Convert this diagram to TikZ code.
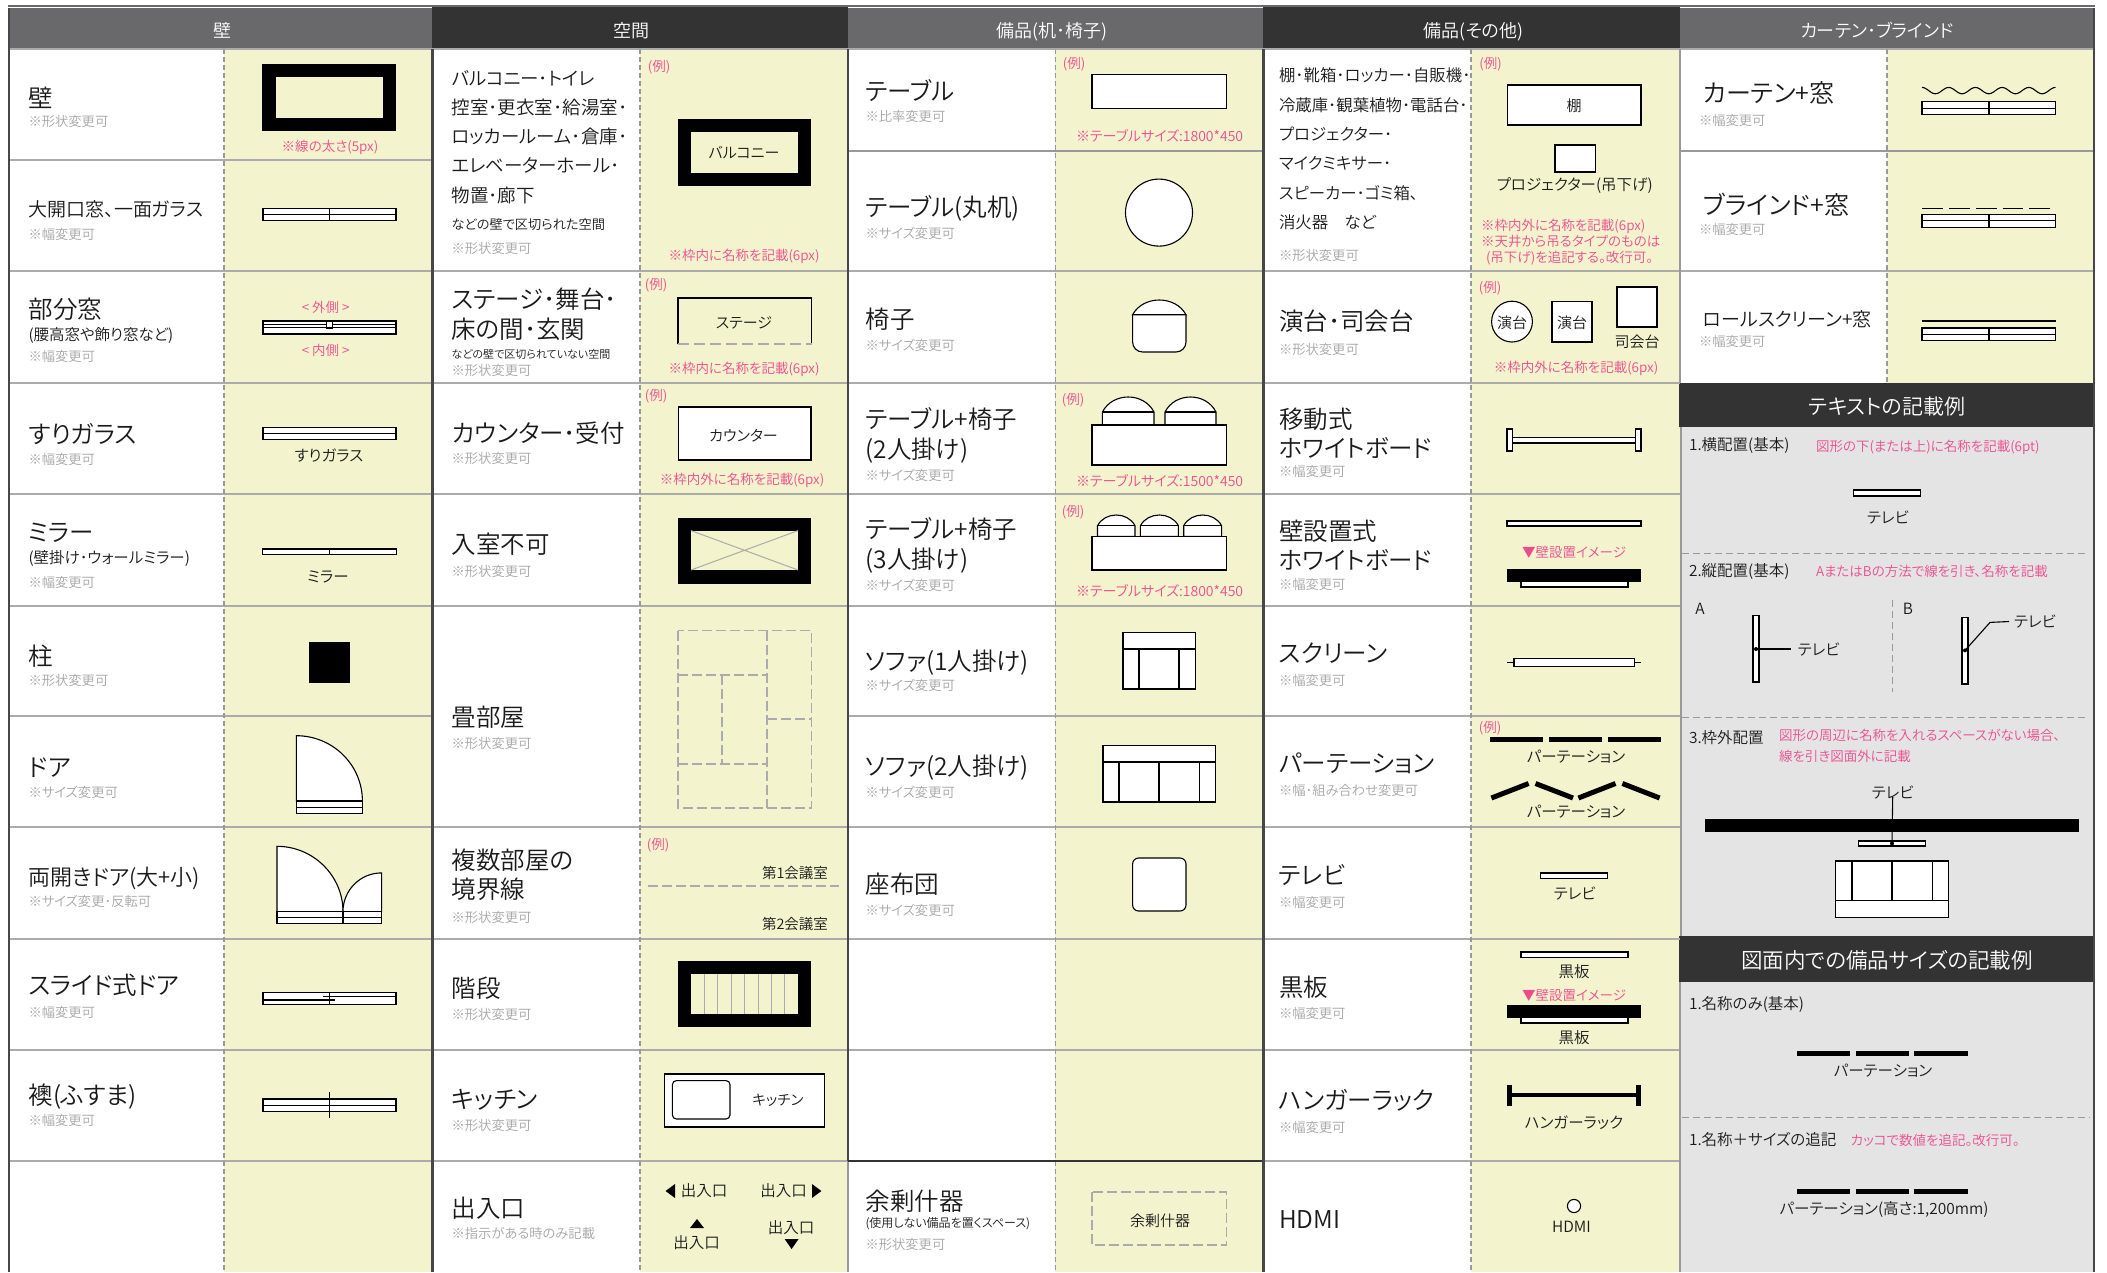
\documentclass[tikz,border=0pt]{standalone}
\usepackage{fontspec}
\setmainfont{Noto Sans CJK JP DemiLight}[RawFeature={+palt}]
\definecolor{yel}{HTML}{F3F3CE}
\definecolor{hgray}{HTML}{69696B}
\definecolor{hdark}{HTML}{333333}
\definecolor{rowl}{HTML}{ABABAB}
\definecolor{dashc}{HTML}{999999}
\definecolor{note}{HTML}{A6A6A6}
\definecolor{pnk}{HTML}{EC4C8E}
\definecolor{panel}{HTML}{E4E4E4}
\definecolor{ink}{HTML}{1A1A1A}
\newcount\nn
\tikzset{
  sz/.style={font=\fontsize{#1}{#1}\selectfont,text height=0.91*#1 pt,text depth=0.09*#1 pt,inner sep=0pt,outer sep=0pt},
  ic/.style={draw=black,line width=1.1pt,fill=white},
  iline/.style={draw=black,line width=1.1pt},
  rowline/.style={draw=rowl,line width=1.2pt},
  coldash/.style={draw=dashc,line width=1.1pt,dash pattern=on 5pt off 3pt},
  divider/.style={draw=hdark!90,line width=2.2pt},
  grayd/.style={draw=rowl,line width=1.1pt,dash pattern=on 10pt off 4pt},
  paneld/.style={draw=dashc,line width=1pt,dash pattern=on 7pt off 4pt},
}
\newcommand{\Lt}[4]{\global\advance\nn by 1 \node[sz=#1,anchor=west,text=ink] (n\the\nn) at (#2,#3) {#4};}
\newcommand{\Ct}[4]{\global\advance\nn by 1 \node[sz=#1,anchor=center,text=ink] (n\the\nn) at (#2,#3) {#4};}
\newcommand{\Nt}[3]{\global\advance\nn by 1 \node[sz=13.3,anchor=west,text=note] (n\the\nn) at (#1,#2) {#3};}
\newcommand{\Pc}[3]{\global\advance\nn by 1 \node[sz=13.5,anchor=center,text=pnk] (n\the\nn) at (#1,#2) {#3};}
\newcommand{\PcB}[3]{\global\advance\nn by 1 \node[sz=14,anchor=center,text=pnk] (n\the\nn) at (#1,#2) {#3};}
\newcommand{\Pl}[3]{\global\advance\nn by 1 \node[sz=13.5,anchor=west,text=pnk] (n\the\nn) at (#1,#2) {#3};}
\newcommand{\Hd}[4]{\global\advance\nn by 1 \node[sz=#1,anchor=center,text=white] (n\the\nn) at (#2,#3) {#4};}
% window: x1 x2 ytop ybot xv
\newcommand{\WinV}[5]{\draw[ic] (#1,#3) rectangle (#2,#4);
  \draw[iline] (#1,{(#3+#4)/2}) -- (#2,{(#3+#4)/2}) (#5,#3) -- (#5,#4);}
\newcommand{\WinN}[4]{\draw[ic] (#1,#3) rectangle (#2,#4);
  \draw[iline] (#1,{(#3+#4)/2}) -- (#2,{(#3+#4)/2});}
% dome chair: x1 x2 ytop yshoulder ybottom
\newcommand{\Dome}[5]{\pgfmathsetmacro\cy{#4-(#4-#3)/0.75}\pgfmathsetmacro\cxa{#1+0.2*(#2-#1)}\pgfmathsetmacro\cxb{#2-0.2*(#2-#1)}
  \draw[ic] (#1,#5) -- (#1,#4) .. controls (\cxa,\cy) and (\cxb,\cy) .. (#2,#4) -- (#2,#5) -- cycle;
  \draw[iline] (#1,#4) -- (#2,#4);}
\begin{document}
\begin{tikzpicture}[x=1pt,y=-1pt]
\useasboundingbox (0,0) rectangle (2107,1272);
\fill[white] (0,0) rectangle (2107,1272);
% ---- column fills
\fill[yel] (224,49) rectangle (432,1272);
\fill[yel] (640,49) rectangle (848,1272);
\fill[yel] (1055,49) rectangle (1263,1272);
\fill[yel] (1471,49) rectangle (1680,1272);
\fill[yel] (1887,49) rectangle (2093,383);
% ---- panels
\fill[panel] (1680,427) rectangle (2093,936);
\fill[panel] (1680,982) rectangle (2093,1272);
% ---- headers
\fill[hgray] (9,8) rectangle (432,49);
\fill[hdark] (432,6) rectangle (848,49);
\fill[hgray] (848,8) rectangle (1263,49);
\fill[hdark] (1263,6) rectangle (1680,49);
\fill[hgray] (1680,8) rectangle (2094,49);
\draw[draw=hgray,line width=1.6pt] (8,6) -- (2095,6);
\fill[hdark] (1679,383) rectangle (2095,427);
\fill[hdark] (1679,936) rectangle (2095,982);
% ---- row lines
\foreach \y in {49,160,271,383,494,606,716,827,939,1050,1161} {\draw[rowline] (9,\y) -- (432,\y);}
\foreach \y in {49,271,383,494,606,827,939,1050,1161} {\draw[rowline] (432,\y) -- (848,\y);}
\foreach \y in {49,271,383,494,606,716,827,939,1050} {\draw[rowline] (848,\y) -- (1263,\y);}
\foreach \y in {49,271,383,494,606,716,827,939,1050,1161} {\draw[rowline] (1263,\y) -- (1680,\y);}
\foreach \y in {49,271} {\draw[rowline] (1680,\y) -- (2093,\y);}
\draw[draw=dashc,line width=2.6pt] (848,151) -- (1263,151);
\draw[draw=dashc,line width=2.6pt] (1680,151) -- (2093,151);
% ---- vertical dashed
\draw[coldash] (224,49) -- (224,1272);
\draw[coldash] (640,49) -- (640,1272);
\draw[coldash] (1055.5,49) -- (1055.5,1272);
\draw[coldash] (1471,49) -- (1471,1272);
\draw[coldash] (1887,49) -- (1887,383);
% ---- dividers
\draw[divider] (9,8) -- (9,1272);
\draw[divider] (432.5,49) -- (432.5,1272);
\draw[divider] (848,49) -- (848,1161);
\draw[draw=dashc,line width=2pt] (848,1161) -- (848,1272);
\draw[divider] (1263.5,49) -- (1263.5,1272);
\draw[draw=dashc,line width=1.6pt] (1680,49) -- (1680,383);
\draw[draw=dashc,line width=1.6pt] (1681,427) -- (1681,936);
\draw[draw=dashc,line width=1.6pt] (1680,982) -- (1680,1272);
\draw[divider] (2094,8) -- (2094,1272);
\draw[draw=hdark,line width=2.2pt] (848,1161) -- (1262,1161);
% ---- header texts
\Hd{18}{222}{30}{壁}
\Hd{18}{631}{30}{空間}
\Hd{18}{1052}{30}{備品(机･椅子)}
\Hd{18}{1473.5}{30}{備品(その他)}
\Hd{18}{1877}{30}{カーテン･ブラインド}
\Hd{21}{1887}{406}{テキストの記載例}
\Hd{21.5}{1887}{960}{図面内での備品サイズの記載例}
% ==== column 1 labels
\Lt{24.5}{28.5}{97}{壁}\Nt{28.5}{121}{※形状変更可}
\Lt{19}{28.5}{209}{大開口窓、一面ガラス}\Nt{28.5}{234}{※幅変更可}
\Lt{24.5}{28.5}{308}{部分窓}\Lt{15.5}{28.5}{334}{(腰高窓や飾り窓など)}\Nt{28.5}{356}{※幅変更可}
\Lt{24.5}{28.5}{433}{すりガラス}\Nt{28.5}{459}{※幅変更可}
\Lt{24.5}{28.5}{531}{ミラー}\Lt{15.5}{28.5}{557}{(壁掛け･ウォールミラー)}\Nt{28.5}{582}{※幅変更可}
\Lt{24.5}{28.5}{655}{柱}\Nt{28.5}{680}{※形状変更可}
\Lt{24.5}{28.5}{766}{ドア}\Nt{28.5}{792}{※サイズ変更可}
\Lt{22}{28.5}{876}{両開きドア(大+小)}\Nt{28.5}{901}{※サイズ変更･反転可}
\Lt{24.5}{28.5}{984}{スライド式ドア}\Nt{28.5}{1012}{※幅変更可}
\Lt{24.5}{28.5}{1094}{襖(ふすま)}\Nt{28.5}{1120}{※幅変更可}
% ==== column 1 icons
\fill[black] (262.4,64) rectangle (396,130.6);
\fill[yel] (276,77) rectangle (383,117.5);
\Pc{330}{146}{※線の太さ(5px)}
\WinV{263}{396}{208.6}{220.8}{329.4}
\Pc{325.7}{306.5}{< 外側 >}\Pc{325.7}{350}{< 内側 >}
\draw[ic] (263,321) rectangle (396,334);
\draw[iline] (263,324.5) -- (396,324.5) (263,327.8) -- (396,327.8);
\draw[ic] (326.5,321) rectangle (332.6,328);
\WinN{263}{396}{427.4}{439.6}
\Ct{15.5}{329}{455}{すりガラス}
\draw[ic] (262.4,549) rectangle (396.3,554.7);
\draw[iline] (329.4,549) -- (329.4,554.7);
\Ct{15.5}{328}{576}{ミラー}
\fill[black] (309,641.8) rectangle (350,682.6);
\draw[ic] (296.3,801) -- (296.3,735.7) .. controls (332.6,735.7) and (362.4,764.7) .. (362.4,801) -- cycle;
\WinN{296.3}{362.4}{801}{813.3}
\draw[ic] (277,911.6) -- (277,846.3) .. controls (313.2,846.3) and (343,875.7) .. (343,911.6) -- cycle;
\draw[ic] (381.6,911.6) -- (381.6,872.9) .. controls (360.2,872.9) and (343,890.2) .. (343,911.6) -- cycle;
\WinV{277}{381.6}{911.6}{923.5}{343}
\draw[ic] (263,992.4) rectangle (396,1004.7);
\draw[iline] (263,1000) -- (335,1000) (323,996.5) -- (396,996.5) (329.4,992.4) -- (329.4,1004.7);
\WinN{263}{396}{1099}{1111.6}
\draw[iline] (329.4,1092.4) -- (329.4,1118);
% ==== column 2 labels
\Lt{18.5}{451.6}{78}{バルコニー･トイレ}
\Lt{18.5}{451.6}{107}{控室･更衣室･給湯室･}
\Lt{18.5}{451.6}{136}{ロッカールーム･倉庫･}
\Lt{18.5}{451.6}{165}{エレベーターホール･}
\Lt{18.5}{451.6}{195}{物置･廊下}
\Lt{13.2}{451.6}{224.5}{などの壁で区切られた空間}
\Nt{451.6}{248}{※形状変更可}
\Lt{24.5}{451.6}{298}{ステージ･舞台･}\Lt{24.5}{451.6}{328.6}{床の間･玄関}
\Lt{11}{451.6}{354}{などの壁で区切られていない空間}\Nt{451.6}{370}{※形状変更可}
\Lt{24.5}{451.6}{432.6}{カウンター･受付}\Nt{451.6}{458}{※形状変更可}
\Lt{24.5}{451.6}{543}{入室不可}\Nt{451.6}{571}{※形状変更可}
\Lt{24.5}{451.6}{716}{畳部屋}\Nt{451.6}{743.5}{※形状変更可}
\Lt{24.5}{451.6}{859}{複数部屋の}\Lt{24.5}{451.6}{888}{境界線}\Nt{451.6}{917}{※形状変更可}
\Lt{24.5}{451.6}{987}{階段}\Nt{451.6}{1014}{※形状変更可}
\Lt{24.5}{451.6}{1098}{キッチン}\Nt{451.6}{1125}{※形状変更可}
\Lt{24.5}{451.6}{1207}{出入口}\Nt{451.6}{1233}{※指示がある時のみ記載}
% ==== column 2 icons
\Pc{659}{66}{(例)}
\fill[black] (678,119) rectangle (811,186);
\fill[yel] (691,132) rectangle (798,173);
\Ct{15}{744}{152}{バルコニー}
\Pc{744}{255}{※枠内に名称を記載(6px)}
\Pc{656}{284}{(例)}
\draw[iline] (678,344) -- (678,298) -- (811.6,298) -- (811.6,344);
\draw[grayd,dash pattern=on 11pt off 5pt] (678,344) -- (811.6,344);
\Ct{15}{744}{322}{ステージ}
\Pc{744}{368}{※枠内に名称を記載(6px)}
\Pc{656}{395}{(例)}
\draw[ic] (678.5,407) rectangle (811,460);
\Ct{15}{743.5}{435}{カウンター}
\Pc{742}{479}{※枠内外に名称を記載(6px)}
\fill[black] (678,517.5) rectangle (811,584);
\fill[yel] (691,530.6) rectangle (798,570);
\draw[draw=rowl,line width=1pt] (691,530.6) -- (798,570) (691,570) -- (798,530.6);
\draw[grayd] (678,630.6) rectangle (811.6,808);
\draw[grayd] (767,630.6) -- (767,808);
\draw[grayd] (678,675) -- (767,675) (678,764) -- (767,764) (722,675) -- (722,764) (767,719) -- (811.6,719);
\Pc{658}{844}{(例)}
\Ct{14.5}{795}{872.5}{第1会議室}
\draw[grayd] (648,886) -- (839,886);
\Ct{14.5}{795}{924}{第2会議室}
\fill[black] (678,960.6) rectangle (811,1027);
\fill[yel] (691,974) rectangle (798,1013.7);
\foreach \i in {1,...,7} {\draw[draw=rowl,line width=1pt] ({691+\i*13.4},974) -- ({691+\i*13.4},1013.7);}
\draw[ic] (664.7,1074) rectangle (824.3,1127);
\draw[ic,rounded corners=4pt] (672.4,1080.6) rectangle (730,1119);
\Ct{14.5}{778}{1100}{キッチン}
\fill[black] (675,1184) -- (675,1198) -- (665.5,1191) -- cycle;
\Ct{15.5}{704}{1190.5}{出入口}
\Ct{15.5}{783.5}{1190.5}{出入口}
\fill[black] (812,1184) -- (812,1198) -- (821.4,1191) -- cycle;
\fill[black] (690,1228) -- (704,1228) -- (697,1219) -- cycle;
\Ct{15.5}{696.5}{1242}{出入口}
\Ct{15.5}{791}{1227}{出入口}
\fill[black] (784.6,1239) -- (798.6,1239) -- (791.6,1249) -- cycle;
% ==== column 3 labels
\Lt{24.5}{865.5}{90}{テーブル}\Nt{865.5}{116}{※比率変更可}
\Lt{24.5}{865.5}{206}{テーブル(丸机)}\Nt{865.5}{233}{※サイズ変更可}
\Lt{24.5}{865.5}{318}{椅子}\Nt{865.5}{345}{※サイズ変更可}
\Lt{24.5}{865.5}{418}{テーブル+椅子}\Lt{24.5}{865.5}{448}{(2人掛け)}\Nt{865.5}{475}{※サイズ変更可}
\Lt{24.5}{865.5}{528.6}{テーブル+椅子}\Lt{24.5}{865.5}{558}{(3人掛け)}\Nt{865.5}{585}{※サイズ変更可}
\Lt{24.5}{865.5}{660}{ソファ(1人掛け)}\Nt{865.5}{685}{※サイズ変更可}
\Lt{24.5}{865.5}{765.5}{ソファ(2人掛け)}\Nt{865.5}{792}{※サイズ変更可}
\Lt{24.5}{865.5}{883}{座布団}\Nt{865.5}{910}{※サイズ変更可}
\Lt{24.5}{865.5}{1200.6}{余剰什器}\Lt{12}{865.5}{1222.6}{(使用しない備品を置くスペース)}\Nt{865.5}{1244}{※形状変更可}
% ==== column 3 icons
\Pc{1074}{63}{(例)}
\draw[ic] (1092,74.7) rectangle (1226.5,108.6);
\PcB{1159.6}{136}{※テーブルサイズ:1800*450}
\draw[ic] (1159,212.6) circle[radius=33.5];
\draw[ic,rounded corners=10pt] (1132.6,314.7) -- (1132.6,352) -- (1186,352) -- (1186,314.7);
\Dome{1132.6}{1186}{300}{314.7}{314.7}
\Pc{1073}{399}{(例)}
\Dome{1102.4}{1154}{397}{412}{425}
\Dome{1165}{1216}{397}{412}{425}
\draw[ic] (1092,425) rectangle (1226.5,465);
\PcB{1159.6}{481}{※テーブルサイズ:1500*450}
\Pc{1073}{511}{(例)}
\Dome{1097.5}{1135}{515}{525.7}{536.3}
\Dome{1140.4}{1178.4}{515}{525.7}{536.3}
\Dome{1183.7}{1221.6}{515}{525.7}{536.3}
\draw[ic] (1092,536.3) rectangle (1226.5,570);
\PcB{1159.6}{591}{※テーブルサイズ:1800*450}
\draw[ic] (1123,632.4) rectangle (1195.5,689);
\draw[iline] (1123,649) -- (1195.5,649) (1139,649) -- (1139,689) (1179,649) -- (1179,689);
\draw[ic] (1103,745.5) rectangle (1215.5,802);
\draw[iline] (1103,762) -- (1215.5,762) (1119,762) -- (1119,802) (1159,762) -- (1159,802) (1199.6,762) -- (1199.6,802);
\draw[ic,rounded corners=6pt] (1132.6,858) rectangle (1186,911);
\draw[grayd] (1092,1192) rectangle (1226.5,1245);
\Ct{15}{1160}{1220}{余剰什器}
% ==== column 4 labels
\Lt{16.4}{1279}{75}{棚･靴箱･ロッカー･自販機･}
\Lt{16.4}{1279}{105}{冷蔵庫･観葉植物･電話台･}
\Lt{16.4}{1279}{134}{プロジェクター･}
\Lt{16.4}{1279}{163}{マイクミキサー･}
\Lt{16.4}{1279}{193}{スピーカー･ゴミ箱､}
\Lt{16.4}{1279}{222}{消火器　など}
\Nt{1279}{255}{※形状変更可}
\Lt{24.5}{1279}{320}{演台･司会台}\Nt{1279}{349}{※形状変更可}
\Lt{24.5}{1279}{418}{移動式}\Lt{24.5}{1279}{447}{ホワイトボード}\Nt{1279}{471}{※幅変更可}
\Lt{24.5}{1279}{530}{壁設置式}\Lt{24.5}{1279}{559}{ホワイトボード}\Nt{1279}{584}{※幅変更可}
\Lt{24.5}{1279}{652}{スクリーン}\Nt{1279}{680}{※幅変更可}
\Lt{24.5}{1279}{762}{パーテーション}\Nt{1279}{790}{※幅･組み合わせ変更可}
\Lt{24.5}{1279}{874}{テレビ}\Nt{1279}{902}{※幅変更可}
\Lt{24.5}{1279}{986}{黒板}\Nt{1279}{1013}{※幅変更可}
\Lt{24.5}{1279}{1099}{ハンガーラック}\Nt{1279}{1127}{※幅変更可}
\Lt{24.5}{1279}{1218}{HDMI}
% ==== column 4 icons
\Pc{1490.6}{63}{(例)}
\draw[ic] (1507.3,85) rectangle (1641,125);
\Ct{15}{1574}{105}{棚}
\draw[ic] (1555,145) rectangle (1595.5,172);
\Ct{15.5}{1574.7}{184}{プロジェクター(吊下げ)}
\Pl{1481}{225}{※枠内外に名称を記載(6px)}
\Pl{1481}{241}{※天井から吊るタイプのものは}
\Pl{1486}{257}{(吊下げ)を追記する。改行可。}
\Pc{1490}{287}{(例)}
\draw[ic] (1512,321.6) circle[radius=20.4];
\Ct{15}{1512}{322}{演台}
\draw[ic] (1552,301.6) rectangle (1592,342);
\Ct{15}{1572}{322}{演台}
\draw[ic] (1617,287) rectangle (1657,327);
\Ct{15}{1637}{341}{司会台}
\Pc{1576}{367}{※枠内外に名称を記載(6px)}
\draw[ic] (1507,429) rectangle (1512.6,451);
\draw[ic] (1635.5,429) rectangle (1641,451);
\draw[ic] (1512.6,437.5) rectangle (1635.5,443);
\draw[ic] (1507,521) rectangle (1641,526);
\Pc{1574}{552}{▼壁設置イメージ}
\fill[black] (1507,568.6) rectangle (1641,581.6);
\draw[ic] (1521,581.6) rectangle (1628,587);
\draw[iline] (1507,662.6) -- (1641,662.6);
\draw[ic] (1514,658.6) rectangle (1634.7,666.7);
\Pc{1490}{727}{(例)}
\fill[black] (1490,736.7) rectangle (1543,742.2);
\fill[black] (1549,736.7) rectangle (1602,742.2);
\fill[black] (1608,736.7) rectangle (1661,742.2);
\Ct{15.5}{1576}{756.5}{パーテーション}
\draw[draw=black,line width=5pt] (1491.4,798) -- (1528.6,783.5);
\draw[draw=black,line width=5pt] (1535.5,783.5) -- (1573,798);
\draw[draw=black,line width=5pt] (1578.4,798) -- (1615.5,783.5);
\draw[draw=black,line width=5pt] (1622.4,783.5) -- (1659.6,798);
\Ct{15.5}{1576}{811.6}{パーテーション}
\draw[ic] (1540.4,873) rectangle (1607.8,878.6);
\Ct{15.5}{1574.7}{893}{テレビ}
\draw[ic] (1521,952) rectangle (1628,957.4);
\Ct{15.5}{1574}{971}{黒板}
\Pc{1574}{994.5}{▼壁設置イメージ}
\fill[black] (1507,1004.7) rectangle (1641,1017.8);
\draw[ic] (1521,1017.8) rectangle (1628,1023);
\Ct{15.5}{1574}{1037}{黒板}
\draw[draw=black,line width=3.7pt] (1507,1095.3) -- (1641,1095.3);
\fill[black] (1507,1085) rectangle (1512,1106);
\fill[black] (1636,1085) rectangle (1641,1106);
\Ct{15.5}{1574}{1122}{ハンガーラック}
\draw[ic] (1574,1206) circle[radius=6.6];
\Ct{15.5}{1571.4}{1226}{HDMI}
% ==== column 5
\Lt{25}{1703}{92}{カーテン+窓}\Nt{1699}{120}{※幅変更可}
\Lt{25}{1703}{204}{ブラインド+窓}\Nt{1699}{229}{※幅変更可}
\Lt{19}{1703}{319}{ロールスクリーン+窓}\Nt{1699}{341}{※幅変更可}
\draw[iline] plot[smooth,domain=0:5,samples=61] ({1922+\x*26.7},{90.6-3.2*cos(\x*360)});
\WinV{1922}{2055.6}{101.6}{114.7}{1989}
\draw[iline] (1922,208.6) -- (1943.3,208.6) (1949.3,208.6) -- (1970,208.6) (1976.3,208.6) -- (1996.7,208.6) (2002.7,208.6) -- (2023.3,208.6) (2029.3,208.6) -- (2050,208.6);
\WinV{1922}{2055.6}{214.3}{227.3}{1989}
\draw[iline] (1922,321) -- (2055.6,321);
\WinV{1922}{2055.6}{328}{340.4}{1989}
% ==== panel 1
\Lt{15.5}{1689}{444}{1.横配置(基本)}
\Pl{1816}{446}{図形の下(または上)に名称を記載(6pt)}
\draw[ic] (1853.3,490) rectangle (1920.7,496);
\Ct{15.5}{1888}{516.7}{テレビ}
\draw[paneld] (1682,553) -- (2088,553);
\Lt{15.5}{1689}{570}{2.縦配置(基本)}
\Pl{1816}{571}{AまたはBの方法で線を引き、名称を記載}
\Ct{15.5}{1700}{608}{A}
\Ct{15.5}{1908}{608}{B}
\draw[ic] (1753,615.5) rectangle (1759,682);
\coordinate (dotA) at (1756,649);
\node[sz=15.5,anchor=west,text=ink] (labA) at (1797.7,649) {テレビ};
\fill[black] (dotA) circle[radius=2];
\draw[iline] (dotA) -- ([xshift=-7pt]labA.west);
\draw[ic] (1962,617.5) rectangle (1968,684);
\coordinate (dotB) at (1965,650.4);
\node[sz=15.5,anchor=west,text=ink] (labB) at (2014,621.5) {テレビ};
\fill[black] (dotB) circle[radius=2];
\draw[iline] (dotB) -- (1990,622.4) -- ([xshift=-5pt]labB.west);
\draw[paneld] (1892,600) -- (1892,692);
\draw[paneld] (1682,717) -- (2088,717);
\Lt{15.5}{1689}{737}{3.枠外配置}
\Pl{1779}{735}{図形の周辺に名称を入れるスペースがない場合、}
\Pl{1779}{756}{線を引き図面外に記載}
\node[sz=15.5,anchor=center,text=ink] (labC) at (1892.7,792.4) {テレビ};
\fill[black] (1705,818.6) rectangle (2079,831.6);
\draw[ic] (1858.7,841) rectangle (1925.7,846);
\coordinate (dotC) at (1892,843.5);
\fill[black] (dotC) circle[radius=2];
\draw[iline] ([yshift=3pt]labC.south) -- (dotC);
\draw[ic] (1835.7,861) rectangle (1948.7,917.3);
\draw[iline] (1835.7,900.6) -- (1948.7,900.6) (1852,861) -- (1852,900.6) (1892,861) -- (1892,900.6) (1932.3,861) -- (1932.3,900.6);
% ==== panel 2
\Lt{15.5}{1689}{1003}{1.名称のみ(基本)}
\fill[black] (1797,1051.2) rectangle (1850,1056.2);
\fill[black] (1855.7,1051.2) rectangle (1909,1056.2);
\fill[black] (1914.3,1051.2) rectangle (1967.7,1056.2);
\Ct{15.5}{1883}{1070}{パーテーション}
\draw[paneld] (1682,1117) -- (2090,1117);
\Lt{15.5}{1689}{1139}{1.名称＋サイズの追記}
\Pl{1850.7}{1140}{カッコで数値を追記。改行可。}
\fill[black] (1797,1188.5) rectangle (1850,1193.5);
\fill[black] (1855.7,1188.5) rectangle (1909,1193.5);
\fill[black] (1914.3,1188.5) rectangle (1967.7,1193.5);
\Ct{15.5}{1884}{1208}{パーテーション(高さ:1,200mm)}
\end{tikzpicture}
\end{document}
